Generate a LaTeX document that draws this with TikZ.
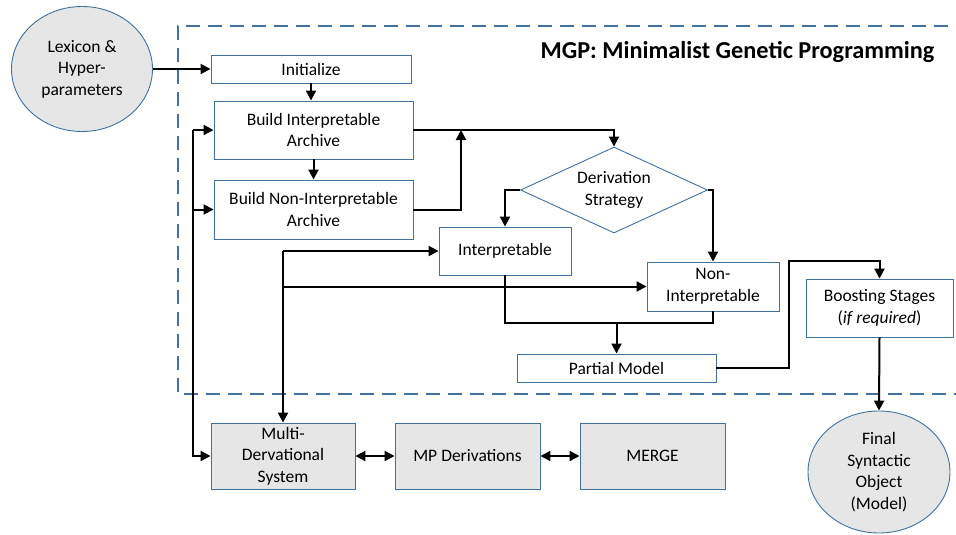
\documentclass[tikz,border=0pt]{standalone}
\usepackage{fontspec}
\setmainfont{Carlito}
\usetikzlibrary{arrows.meta,shapes.geometric,calc}
\definecolor{bord}{HTML}{41719C}
\definecolor{grayfill}{HTML}{E6E6E6}
\begin{document}
\begin{tikzpicture}[x=1pt,y=-1pt,
  txt/.style={font=\fontsize{17.5}{21.5}\selectfont, align=center},
  wbox/.style={txt, draw=bord, line width=0.9pt, fill=white, rectangle, inner sep=0pt},
  gbox/.style={txt, draw=bord, line width=0.9pt, fill=grayfill, rectangle, inner sep=0pt},
  gell/.style={txt, draw=bord, line width=0.9pt, fill=grayfill, ellipse, inner sep=0pt},
  arr/.style={line width=2pt, -{Triangle[length=10pt,width=10pt]}},
  darr/.style={line width=2pt, {Triangle[length=10pt,width=10pt]}-{Triangle[length=10pt,width=10pt]}},
  ln/.style={line width=2pt}]
\useasboundingbox (0,0) rectangle (956,535);
% dashed frame
\draw[bord, line width=2.8pt, dash pattern=on 14pt off 8pt] (970,26) -- (178,26) -- (178,394) -- (970,394);
\node[font=\fontsize{24.3}{28}\selectfont\bfseries] (title) at (737.5,52) {MGP: Minimalist Genetic Programming};
% nodes
\node[gell, minimum width=141pt, minimum height=125pt] (lex) at (82,69) {Lexicon \&\\Hyper-\\parameters};
\node[wbox, minimum width=200pt, minimum height=28pt] (init) at (311,69) {Initialize};
\node[wbox, minimum width=199pt, minimum height=58pt] (bia) at (313.5,130) {Build Interpretable\\Archive};
\node[wbox, minimum width=199pt, minimum height=59pt] (bnia) at (313.5,209.5) {Build Non-Interpretable\\Archive};
\node[txt, draw=bord, line width=0.9pt, fill=white, diamond, aspect=2.17, inner sep=0pt, minimum width=187pt, minimum height=86pt] (dia) at (614,190) {Derivation\\Strategy};
\node[wbox, minimum width=132pt, minimum height=48pt] (interp) at (505,251) {Interpretable};
\node[wbox, minimum width=132pt, minimum height=49pt] (nonint) at (713,286.5) {Non-\\Interpretable};
\node[wbox, minimum width=199pt, minimum height=28pt] (partial) at (616.5,368) {Partial Model};
\node[wbox, minimum width=147pt, minimum height=58pt] (boost) at (879.5,308) {Boosting Stages\\(\textit{if required})};
\node[gell, minimum width=142pt, minimum height=122pt] (final) at (879,472) {Final\\Syntactic\\Object\\(Model)};
\node[gbox, minimum width=144pt, minimum height=66pt] (multi) at (283,456) {Multi-\\Dervational\\System};
\node[gbox, minimum width=145pt, minimum height=66pt] (mp) at (467.5,456) {MP Derivations};
\node[gbox, minimum width=145pt, minimum height=66pt] (merge) at (652.5,456) {MERGE};
% junction coordinates
\coordinate (lb) at (193,130);
\coordinate (j1) at (461,130);
\coordinate (mb) at (283,251);
\coordinate (j2) at (616.5,323);
\coordinate (j3) at (789,261);
% connectors
\draw[arr] (lex.east |- init.west) -- (init.west);
\draw[arr] (init.south) -- (init.south |- bia.north);
\draw[arr] (bia.south) -- (bnia.north);
\draw[arr] (lb) -- (bia.west);
\draw[arr] (lb |- bnia.west) -- (bnia.west);
\draw[arr] (lb) |- (multi.west);
\draw[arr] (bia.east) -| (dia.north);
\draw[arr] (bnia.east) -| (j1);
\draw[arr] (dia.west) -| (interp.north);
\draw[arr] (dia.east) -| (nonint.north);
\draw[arr] (mb) -- (interp.west);
\draw[arr] (mb |- nonint.west) -- (nonint.west);
\draw[arr] (mb) -- (multi.north);
\draw[ln] (interp.south) |- (j2) -| (nonint.south);
\draw[arr] (j2) -- (partial.north);
\draw[arr] (partial.east) -| (j3) -| (boost.north);
\draw[arr] (boost.south) -- (final.north);
\draw[darr] (multi.east) -- (mp.west);
\draw[darr] (mp.east) -- (merge.west);
\end{tikzpicture}
\end{document}
